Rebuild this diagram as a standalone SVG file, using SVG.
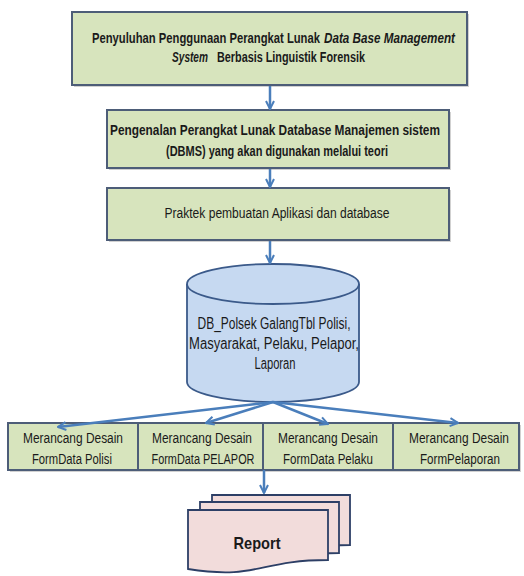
<svg xmlns="http://www.w3.org/2000/svg" width="524" height="576" viewBox="0 0 524 576">
<defs>
<style>
.box{fill:#d7e4bd;stroke:#4d5d78;stroke-width:2}
.sh{fill:#9a9a9a;opacity:0.45}
.t{font-family:"Liberation Sans",Arial,sans-serif;fill:#1a1a1a;text-anchor:middle}
.s{text-anchor:start}
.b{font-weight:bold}
.i{font-style:italic}
.con{stroke:#4a7ebb;stroke-width:2.5;fill:none;marker-end:url(#ah)}
.doc{fill:#f2dcdb;stroke:#2d3f66;stroke-width:1.8}
</style>
<marker id="ah" viewBox="0 0 10 10" refX="9" refY="5" markerWidth="4" markerHeight="4" orient="auto" markerUnits="strokeWidth">
<path d="M1,1 L9,5 L1,9" fill="none" stroke="#4a7ebb" stroke-width="2"/>
</marker>
</defs>
<rect width="524" height="576" fill="#ffffff"/>

<g id="node-penyuluhan">
<rect class="sh" x="74" y="14" width="395" height="73"/>
<rect class="box" x="72" y="12" width="395" height="73"/>
<text class="t s b" x="92" y="43" font-size="14" textLength="228" lengthAdjust="spacingAndGlyphs">Penyuluhan Penggunaan Perangkat Lunak</text>
<text class="t s b i" x="324" y="43" font-size="14" textLength="131" lengthAdjust="spacingAndGlyphs">Data Base Management</text>
<text class="t s b i" x="172" y="62" font-size="14" textLength="36" lengthAdjust="spacingAndGlyphs">System</text>
<text class="t s b" x="217" y="62" font-size="14" textLength="148" lengthAdjust="spacingAndGlyphs">Berbasis Linguistik Forensik</text>
</g>

<g id="node-pengenalan">
<rect class="sh" x="109" y="112" width="342" height="58"/>
<rect class="box" x="107" y="110" width="342" height="58"/>
<text class="t b" x="275" y="135" font-size="14" textLength="330" lengthAdjust="spacingAndGlyphs">Pengenalan Perangkat Lunak Database Manajemen sistem</text>
<text class="t b" x="277" y="156" font-size="14" textLength="222" lengthAdjust="spacingAndGlyphs">(DBMS) yang akan digunakan melalui teori</text>
</g>

<g id="node-praktek">
<rect class="sh" x="109" y="190" width="342" height="52"/>
<rect class="box" x="107" y="188" width="342" height="52"/>
<text class="t" x="277" y="218" font-size="14" textLength="225" lengthAdjust="spacingAndGlyphs">Praktek pembuatan Aplikasi dan database</text>
</g>

<g id="node-database">
<path d="M187,284 V382 A86,20 0 0 0 359,382 V284" fill="#c6d9f1" stroke="#3b5a8a" stroke-width="1.8"/>
<ellipse cx="273" cy="284" rx="86" ry="20" fill="#c6d9f1" stroke="#3b5a8a" stroke-width="1.8"/>
<text class="t" x="274" y="329" font-size="16" textLength="153" lengthAdjust="spacingAndGlyphs">DB_Polsek GalangTbl Polisi,</text>
<text class="t" x="274" y="349" font-size="16" textLength="170" lengthAdjust="spacingAndGlyphs">Masyarakat, Pelaku, Pelapor,</text>
<text class="t" x="275" y="369" font-size="16" textLength="41" lengthAdjust="spacingAndGlyphs">Laporan</text>
</g>

<g id="node-form-polisi">
<rect class="sh" x="10" y="425" width="130" height="47"/>
<rect class="box" x="8" y="423" width="130" height="47"/>
<text class="t" x="73" y="443" font-size="14" textLength="100" lengthAdjust="spacingAndGlyphs">Merancang Desain</text>
<text class="t" x="72" y="464" font-size="14" textLength="80" lengthAdjust="spacingAndGlyphs">FormData Polisi</text>
</g>
<g id="node-form-pelapor">
<rect class="sh" x="140" y="425" width="125" height="47"/>
<rect class="box" x="138" y="423" width="125" height="47"/>
<text class="t" x="202" y="443" font-size="14" textLength="100" lengthAdjust="spacingAndGlyphs">Merancang Desain</text>
<text class="t" x="203" y="464" font-size="14" textLength="103" lengthAdjust="spacingAndGlyphs">FormData PELAPOR</text>
</g>
<g id="node-form-pelaku">
<rect class="sh" x="265" y="425" width="130" height="47"/>
<rect class="box" x="263" y="423" width="130" height="47"/>
<text class="t" x="328" y="443" font-size="14" textLength="100" lengthAdjust="spacingAndGlyphs">Merancang Desain</text>
<text class="t" x="328" y="464" font-size="14" textLength="90" lengthAdjust="spacingAndGlyphs">FormData Pelaku</text>
</g>
<g id="node-form-pelaporan">
<rect class="sh" x="395" y="425" width="126" height="47"/>
<rect class="box" x="393" y="423" width="126" height="47"/>
<text class="t" x="459" y="443" font-size="14" textLength="100" lengthAdjust="spacingAndGlyphs">Merancang Desain</text>
<text class="t" x="460" y="464" font-size="14" textLength="80" lengthAdjust="spacingAndGlyphs">FormPelaporan</text>
</g>

<g id="node-report">
<path class="doc" d="M212,495 H350 V545 C281,545 281,564 212,553 Z"/>
<path class="doc" d="M200,502 H339 V553 C270,553 270,572 200,561 Z"/>
<path class="doc" d="M188,510 H328 V560 C258,560 258,580 188,569 Z"/>
<text class="t b" x="257" y="549" font-size="17" textLength="47" lengthAdjust="spacingAndGlyphs">Report</text>
</g>

<g id="connectors">
<line class="con" x1="270" y1="86" x2="270" y2="109"/>
<line class="con" x1="270" y1="169" x2="270" y2="187"/>
<line class="con" x1="270" y1="241" x2="270" y2="263"/>
<line class="con" x1="273" y1="402" x2="58" y2="427"/>
<line class="con" x1="273" y1="402" x2="206" y2="423"/>
<line class="con" x1="273" y1="402" x2="328" y2="424"/>
<line class="con" x1="273" y1="402" x2="458" y2="423"/>
<line class="con" x1="264" y1="470" x2="264" y2="493"/>
</g>
</svg>
